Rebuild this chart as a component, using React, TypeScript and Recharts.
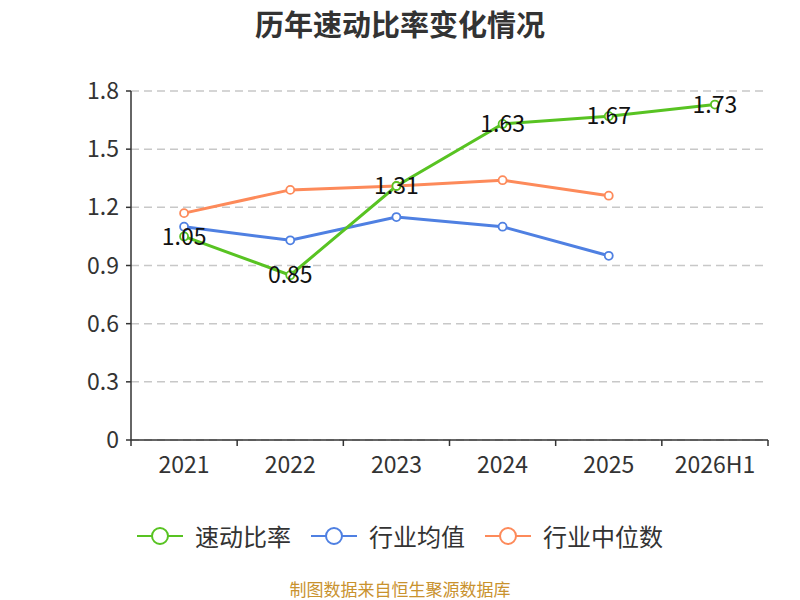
import { LineChart, Line, XAxis, YAxis, CartesianGrid, LabelList } from 'recharts';

const years = ['2021', '2022', '2023', '2024', '2025', '2026H1'];
const quickRatio = [1.05, 0.85, 1.31, 1.63, 1.67, 1.73];
const industryAvg = [1.1, 1.03, 1.15, 1.1, 0.95, null];
const industryMedian = [1.17, 1.29, 1.31, 1.34, 1.26, null];
const yTicks = [0, 0.3, 0.6, 0.9, 1.2, 1.5, 1.8];

const seriesInfo = [
  { key: 'quick', name: '速动比率', color: '#58c322' },
  { key: 'avg', name: '行业均值', color: '#4f80e2' },
  { key: 'median', name: '行业中位数', color: '#fd8a5a' },
];

const data = years.map((year, i) => ({
  year,
  quick: quickRatio[i],
  avg: industryAvg[i],
  median: industryMedian[i],
}));

const FONT = '"Noto Sans CJK SC", "Noto Sans", sans-serif';
const PLOT_LEFT = 131;
const PLOT_RIGHT = 768;
const PLOT_TOP = 91;
const PLOT_BOTTOM = 440;
const HALF_BAND = (PLOT_RIGHT - PLOT_LEFT) / years.length / 2;

const XTick = (props: any) => {
  const { x, payload, index } = props;
  const last = index === years.length - 1;
  return (
    <g>
      <line x1={x - HALF_BAND} x2={x - HALF_BAND} y1={PLOT_BOTTOM} y2={PLOT_BOTTOM + 6} stroke="#333" strokeWidth={1.5} />
      {last && <line x1={x + HALF_BAND} x2={x + HALF_BAND} y1={PLOT_BOTTOM} y2={PLOT_BOTTOM + 6} stroke="#333" strokeWidth={1.5} />}
      <text x={x} y={PLOT_BOTTOM + 33} textAnchor="middle" fill="#333" fontSize={23} fontFamily={FONT}>
        {payload.value}
      </text>
    </g>
  );
};

const Dot = (color: string) => (props: any) => {
  const { cx, cy, value } = props;
  if (value == null || cy == null) return <g key={props.key} />;
  return <circle key={props.key} cx={cx} cy={cy} r={4} fill="#fff" stroke={color} strokeWidth={1.8} />;
};

const App = () => {
  return (
    <div style={{ position: 'absolute', left: 0, top: 0, width: 800, height: 600, background: '#fff', fontFamily: FONT }}>
      <div style={{ position: 'absolute', top: 2, width: 800, textAlign: 'center', fontSize: 29, fontWeight: 'bold', color: '#333' }}>
        历年速动比率变化情况
      </div>
      <LineChart
        width={800}
        height={600}
        data={data}
        margin={{ top: PLOT_TOP, right: 800 - PLOT_RIGHT, bottom: 600 - PLOT_BOTTOM - 30, left: 0 }}
      >
        <CartesianGrid vertical={false} stroke="#c8c8c8" strokeDasharray="8 5" strokeWidth={1.5} />
        <XAxis
          dataKey="year"
          padding={{ left: HALF_BAND, right: HALF_BAND }}
          tickLine={false}
          axisLine={{ stroke: '#333', strokeWidth: 1.5 }}
          tick={<XTick />}
          interval={0}
          height={30}
        />
        <YAxis
          width={PLOT_LEFT}
          domain={[0, 1.8]}
          ticks={yTicks}
          tickSize={5}
          tickMargin={7}
          axisLine={{ stroke: '#333', strokeWidth: 1.5 }}
          tickLine={{ stroke: '#333', strokeWidth: 1.5 }}
          tick={{ fill: '#333', fontSize: 23, fontFamily: FONT }}
        />
        <Line
          dataKey="avg"
          stroke={seriesInfo[1].color}
          strokeWidth={3}
          dot={Dot(seriesInfo[1].color)}
          isAnimationActive={false}
        />
        <Line
          dataKey="median"
          stroke={seriesInfo[2].color}
          strokeWidth={3}
          dot={Dot(seriesInfo[2].color)}
          isAnimationActive={false}
        />
        <Line
          dataKey="quick"
          stroke={seriesInfo[0].color}
          strokeWidth={3}
          dot={Dot(seriesInfo[0].color)}
          isAnimationActive={false}
        >
          <LabelList
            dataKey="quick"
            position="center"
            fill="#111"
            fontSize={23}
            fontFamily={FONT}
          />
        </Line>
      </LineChart>
      <div style={{ position: 'absolute', top: 518, left: 0, width: 800, display: 'flex', justifyContent: 'center', gap: 20, fontSize: 24, color: '#333' }}>
        {seriesInfo.map((s) => (
          <div key={s.key} style={{ display: 'flex', alignItems: 'center', gap: 12 }}>
            <svg width={46} height={20}>
              <line x1={0} x2={46} y1={10} y2={10} stroke={s.color} strokeWidth={2} />
              <circle cx={23} cy={10} r={8} fill="#fff" stroke={s.color} strokeWidth={2} />
            </svg>
            <span>{s.name}</span>
          </div>
        ))}
      </div>
      <div style={{ position: 'absolute', top: 576, width: 800, textAlign: 'center', fontSize: 17, color: '#c9922e' }}>
        制图数据来自恒生聚源数据库
      </div>
    </div>
  );
};

export default App;
